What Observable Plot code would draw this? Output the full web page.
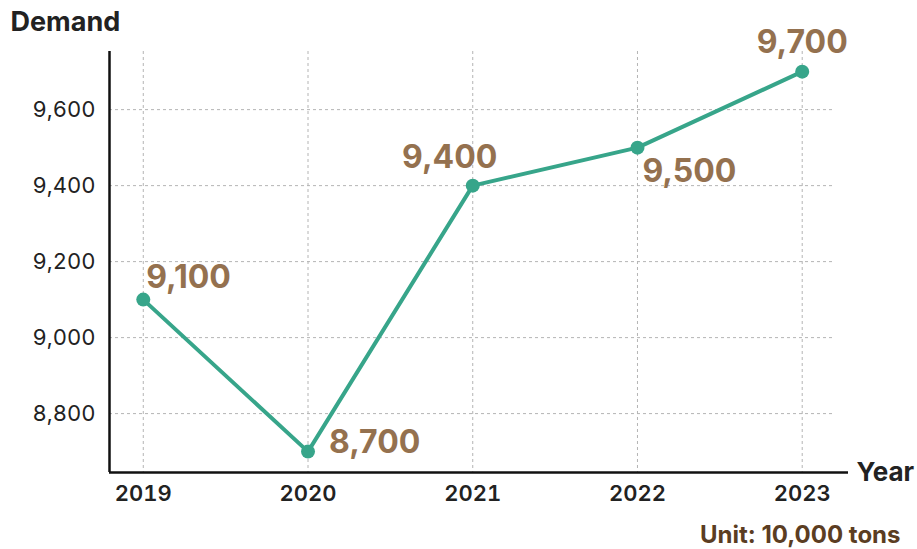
<!DOCTYPE html>
<html>
<head>
<meta charset="utf-8">
<script src="https://cdn.jsdelivr.net/npm/d3@7"></script>
<script src="https://cdn.jsdelivr.net/npm/@observablehq/plot@0.6"></script>
<style>
  html, body { margin: 0; padding: 0; background: #fff; }
  #chart svg { display: block; }
</style>
</head>
<body>
<div id="chart"></div>
<script>
// ---- data ----
const years = [2019, 2020, 2021, 2022, 2023];
const demand = [9100, 8700, 9400, 9500, 9700];
const yTicks = [8800, 9000, 9200, 9400, 9600];
const titleText = "Demand";
const xLabelText = "Year";
const unitText = "Unit: 10,000 tons";

const data = years.map((y, i) => ({year: y, value: demand[i]}));

// ---- layout / style (not data) ----
const xDomain = [2018.795, 2023.281];
const yDomain = [8645, 9753];
const gridXEnd = 2023.19;
const lineColor = "#37a58a";
const labelColor = "#94714f";
const gridColor = "#b4b4b4";
const font = "Inter, 'Noto Sans', sans-serif";
const fmt = d3.format(",");

// per-label placement offsets (styling)
const labelPlacement = [
  {dx: 3, dy: -22, anchor: "start"},
  {dx: 21, dy: -9, anchor: "start"},
  {dx: -23, dy: -28, anchor: "middle"},
  {dx: 5, dy: 24, anchor: "start"},
  {dx: 0, dy: -29, anchor: "middle"}
];

const labelMarks = data.map((d, i) => Plot.text([d], {
  x: "year", y: "value",
  text: v => fmt(v.value),
  dx: labelPlacement[i].dx, dy: labelPlacement[i].dy,
  textAnchor: labelPlacement[i].anchor,
  fill: labelColor, fontSize: 32, fontWeight: 700
}));

const chart = Plot.plot({
  width: 917,
  height: 549,
  marginLeft: 109,
  marginRight: 69,
  marginTop: 51,
  marginBottom: 77,
  style: {fontFamily: font, background: "#fff", overflow: "visible"},
  x: {domain: xDomain},
  y: {domain: yDomain},
  marks: [
    // grid
    Plot.ruleX(years, {x: d => d, stroke: gridColor, strokeDasharray: "3,3", strokeWidth: 1}),
    Plot.ruleY(yTicks, {y: d => d, x1: xDomain[0], x2: gridXEnd, stroke: gridColor, strokeDasharray: "3,3", strokeWidth: 1}),
    // axes
    Plot.axisY({ticks: yTicks, tickSize: 0, tickPadding: 14, tickFormat: fmt, label: null, fontSize: 22, fill: "#222"}),
    Plot.axisX({ticks: years, tickSize: 0, tickPadding: 13, tickFormat: d => String(d), label: null, fontSize: 22, fontWeight: 600, fill: "#222"}),
    Plot.ruleX([xDomain[0]], {stroke: "#111", strokeWidth: 2.5}),
    Plot.ruleY([yDomain[0]], {stroke: "#111", strokeWidth: 2.5}),
    // line + dots
    Plot.line(data, {x: "year", y: "value", stroke: lineColor, strokeWidth: 4}),
    Plot.dot(data, {x: "year", y: "value", r: 7, fill: lineColor}),
    ...labelMarks,
    // titles
    Plot.text([titleText], {frameAnchor: "top-left", textAnchor: "start", lineAnchor: "middle", dx: -99, dy: -29, fontSize: 27, fontWeight: 700, fill: "#222"}),
    Plot.text([xLabelText], {frameAnchor: "bottom-right", textAnchor: "start", lineAnchor: "middle", dx: 8, dy: 0, fontSize: 26, fontWeight: 700, fill: "#222"}),
    Plot.text([unitText], {frameAnchor: "bottom-right", textAnchor: "end", lineAnchor: "middle", dx: 52, dy: 63, fontSize: 24, fontWeight: 700, fill: "#5b3d22"})
  ]
});

document.getElementById("chart").appendChild(chart);
</script>
</body>
</html>
